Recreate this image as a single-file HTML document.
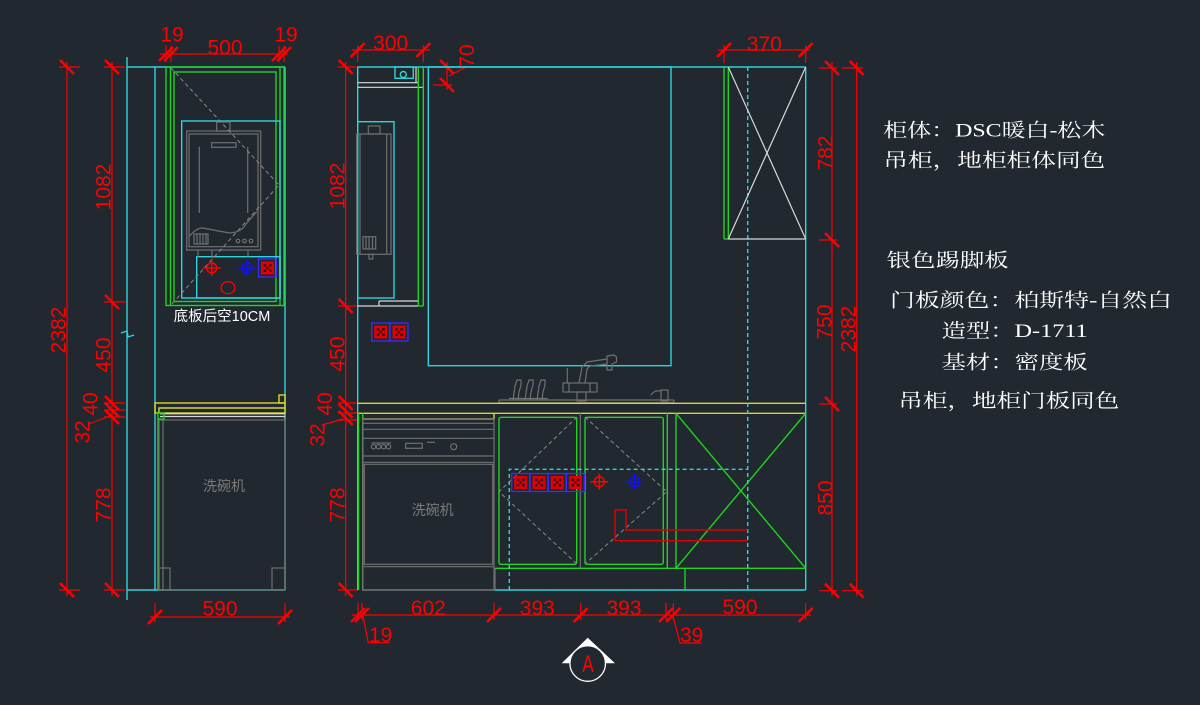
<!DOCTYPE html>
<html><head><meta charset="utf-8">
<style>
html,body{margin:0;padding:0;background:#212830;}
svg{display:block}
.r{stroke:#ff0000;stroke-width:1.2;fill:none}
.c{stroke:#2dd4dc;stroke-width:1.4;fill:none}
.g{stroke:#1fd41f;stroke-width:1.4;fill:none}
.y{stroke:#d8d82a;stroke-width:1.4;fill:none}
.w{stroke:#d8d8d8;stroke-width:1.2;fill:none}
.gr{stroke:#707070;stroke-width:1.2;fill:none}
.dg{stroke:#8a8a8a;stroke-width:1;fill:none;stroke-dasharray:4 3}
.dc{stroke:#2dd4dc;stroke-width:1.4;fill:none;stroke-dasharray:4 3}
.t{fill:#ff0000;font-family:"Liberation Sans",sans-serif;font-size:21px}
.n{fill:#ffffff;font-family:"Liberation Serif","Noto Serif CJK SC",serif;font-size:19px}
</style></head><body>
<svg width="1200" height="705" viewBox="0 0 1200 705" xmlns="http://www.w3.org/2000/svg">
<defs>
<path id="tv" d="M-7,-7L7,7" stroke="#ff0000" stroke-width="2.6"/>
<path id="th" d="M-7,7L7,-7" stroke="#ff0000" stroke-width="2.6"/>
<g id="sock">
<rect x="0" y="0" width="18" height="18" fill="none" stroke="#3a2cff" stroke-width="1.3"/>
<rect x="2.5" y="2.5" width="13" height="13" fill="#e00000"/>
<rect x="5" y="5" width="2.6" height="2.6" fill="#3a1020"/>
<rect x="10.4" y="5" width="2.6" height="2.6" fill="#3a1020"/>
<rect x="5" y="10.4" width="2.6" height="2.6" fill="#3a1020"/>
<rect x="10.4" y="10.4" width="2.6" height="2.6" fill="#3a1020"/>
<rect x="7.8" y="7.8" width="2.4" height="2.4" fill="#3a1020"/>
</g>
<g id="xr" fill="none" stroke="#ff0000" stroke-width="1.5"><circle r="5"/><path d="M-9,0H9M0,-8V8"/></g>
<g id="xb" fill="none" stroke="#1010ff" stroke-width="1.5"><circle r="5"/><path d="M-9,0H9M0,-8V8"/></g>
</defs>
<rect width="1200" height="705" fill="#212830"/>

<!-- ================= LEFT SECTION ================= -->
<line class="r" x1="67" y1="62" x2="67" y2="596"/>
<line class="r" x1="59" y1="67" x2="80" y2="67"/>
<line class="r" x1="59" y1="590" x2="80" y2="590"/>
<use href="#tv" x="67" y="67"/><use href="#tv" x="67" y="590"/>
<text class="t" transform="translate(58,330) rotate(-90)" text-anchor="middle" dy="7.5">2382</text>

<line class="r" x1="112" y1="62" x2="112" y2="596"/>
<line class="r" x1="104" y1="67" x2="125" y2="67"/>
<line class="r" x1="104" y1="302" x2="125" y2="302"/>
<line class="r" x1="104" y1="403" x2="125" y2="403"/>
<line class="r" x1="104" y1="410" x2="125" y2="410"/>
<line class="r" x1="104" y1="417" x2="125" y2="417"/>
<line class="r" x1="104" y1="590" x2="125" y2="590"/>
<use href="#tv" x="112" y="67"/><use href="#tv" x="112" y="302"/>
<use href="#tv" x="112" y="403"/><use href="#tv" x="112" y="410"/><use href="#tv" x="112" y="417"/>
<use href="#tv" x="112" y="590"/>
<text class="t" transform="translate(103,187) rotate(-90)" text-anchor="middle" dy="7.5">1082</text>
<text class="t" transform="translate(103,355) rotate(-90)" text-anchor="middle" dy="7.5">450</text>
<text class="t" transform="translate(90,404) rotate(-90)" text-anchor="middle" dy="7.5">40</text>
<text class="t" transform="translate(82,432) rotate(-90)" text-anchor="middle" dy="7.5">32</text>
<line class="r" x1="89" y1="424" x2="110" y2="416"/>
<text class="t" transform="translate(103,505) rotate(-90)" text-anchor="middle" dy="7.5">778</text>

<line class="r" x1="160" y1="54" x2="288" y2="54"/>
<line class="r" x1="166" y1="46" x2="166" y2="62"/>
<line class="r" x1="171" y1="46" x2="171" y2="62"/>
<line class="r" x1="279" y1="46" x2="279" y2="62"/>
<line class="r" x1="284" y1="46" x2="284" y2="62"/>
<use href="#th" x="166" y="54"/><use href="#th" x="171" y="54"/>
<use href="#th" x="279" y="54"/><use href="#th" x="284" y="54"/>
<text class="t" x="172" y="41.5" text-anchor="middle">19</text>
<text class="t" x="225" y="54.5" text-anchor="middle">500</text>
<text class="t" x="286" y="41.5" text-anchor="middle">19</text>

<line class="c" x1="127" y1="57" x2="127" y2="600"/>
<path class="c" d="M121,333 L127,331 L128,337 L134,335"/>
<line class="c" x1="127" y1="67" x2="285" y2="67"/>
<line class="c" x1="155" y1="67" x2="155" y2="590"/>
<line class="c" x1="285" y1="67" x2="285" y2="590"/>
<line class="c" x1="127" y1="590" x2="285" y2="590"/>

<rect class="g" x="166" y="67" width="118" height="238.5"/>
<line class="g" x1="170.5" y1="67" x2="170.5" y2="305"/>
<line class="g" x1="280" y1="67" x2="280" y2="305"/>
<rect class="g" x="174" y="72" width="102" height="229.5"/>

<rect class="c" x="181.7" y="121" width="98.3" height="177"/>
<rect class="c" x="196.7" y="256.7" width="83.3" height="41.3"/>
<g class="gr">
<rect x="186.7" y="131" width="74" height="119"/>
<rect x="189" y="134" width="69" height="112.7"/>
<rect x="216.7" y="122" width="13.3" height="9"/>
<rect x="211.7" y="142.7" width="24.3" height="4.6"/>
<line x1="199.3" y1="146.7" x2="199.3" y2="213"/>
<line x1="247.7" y1="146.7" x2="247.7" y2="213"/>
<path d="M189,236.7 Q196,228 203,228 Q218,231 230,233 Q242,232 246,224 L256.7,211.7"/>
<rect x="194" y="234" width="14" height="10"/>
<path d="M197,234V244M200,234V244M203,234V244M206,234V244"/>
<circle cx="238" cy="241" r="1.8"/><circle cx="244.5" cy="241" r="1.8"/><circle cx="251" cy="241" r="1.8"/>
<path d="M198,250V256.7M212,250V256.7M248,250V256.7"/>
</g>
<path class="dg" d="M171,68 L279,185 L171,305"/>
<use href="#xr" x="211.7" y="268"/>
<use href="#xb" x="246.7" y="268"/>
<use href="#sock" x="258.5" y="259"/>
<ellipse cx="228" cy="287.7" rx="7" ry="6" fill="none" stroke="#ff0000" stroke-width="1.3"/>
<text x="222" y="321" text-anchor="middle" fill="#ffffff" font-family="'Liberation Sans','Noto Sans CJK SC',sans-serif" font-size="14.5">底板后空10CM</text>

<rect class="y" x="155" y="403" width="130" height="10"/>
<rect class="y" x="279" y="395" width="6" height="8"/>
<path class="y" d="M159,413 V408 H285"/>
<line class="w" x1="160" y1="413.8" x2="285" y2="413.8"/>
<line class="w" x1="160" y1="416.5" x2="285" y2="416.5"/>
<rect class="g" x="158" y="413" width="6" height="6"/>
<line class="g" x1="158" y1="419" x2="158" y2="590"/>
<g class="gr">
<rect x="159" y="420" width="126" height="170"/>
<line x1="163" y1="420" x2="163" y2="590"/>
<rect x="159" y="568" width="11" height="22"/>
<rect x="272" y="568" width="13" height="22"/>
</g>
<text x="224" y="491" text-anchor="middle" fill="#7a7a7a" font-family="'Liberation Sans','Noto Sans CJK SC',sans-serif" font-size="14">洗碗机</text>

<line class="r" x1="150" y1="617" x2="290" y2="617"/>
<line class="r" x1="155" y1="603" x2="155" y2="622"/>
<line class="r" x1="285" y1="603" x2="285" y2="622"/>
<use href="#th" x="155" y="617"/><use href="#th" x="285" y="617"/>
<text class="t" x="220" y="615.5" text-anchor="middle">590</text>

<!-- ================= MIDDLE SECTION ================= -->
<line class="r" x1="345.7" y1="62" x2="345.7" y2="596"/>
<line class="r" x1="338" y1="67" x2="358" y2="67"/>
<line class="r" x1="338" y1="306" x2="358" y2="306"/>
<line class="r" x1="338" y1="403" x2="358" y2="403"/>
<line class="r" x1="338" y1="413" x2="358" y2="413"/>
<line class="r" x1="338" y1="420" x2="358" y2="420"/>
<line class="r" x1="338" y1="590" x2="358" y2="590"/>
<use href="#tv" x="345.7" y="67"/><use href="#tv" x="345.7" y="306"/>
<use href="#tv" x="345.7" y="403"/><use href="#tv" x="345.7" y="411"/><use href="#tv" x="345.7" y="418"/>
<use href="#tv" x="345.7" y="590"/>
<text class="t" transform="translate(337,186) rotate(-90)" text-anchor="middle" dy="7.5">1082</text>
<text class="t" transform="translate(337,354) rotate(-90)" text-anchor="middle" dy="7.5">450</text>
<text class="t" transform="translate(324.5,404) rotate(-90)" text-anchor="middle" dy="7.5">40</text>
<text class="t" transform="translate(317,435) rotate(-90)" text-anchor="middle" dy="7.5">32</text>
<line class="r" x1="322" y1="425" x2="343" y2="419"/>
<text class="t" transform="translate(337,505) rotate(-90)" text-anchor="middle" dy="7.5">778</text>

<line class="r" x1="352" y1="50" x2="430" y2="50"/>
<line class="r" x1="357.7" y1="45" x2="357.7" y2="62"/>
<line class="r" x1="423.3" y1="45" x2="423.3" y2="62"/>
<use href="#th" x="357.7" y="50"/><use href="#th" x="423.3" y="50"/>
<text class="t" x="390.7" y="50" text-anchor="middle">300</text>

<line class="r" x1="433" y1="67" x2="452" y2="67"/>
<line class="r" x1="433" y1="85" x2="452" y2="85"/>
<line class="r" x1="447" y1="62" x2="447" y2="90"/>
<use href="#tv" x="447" y="67"/><use href="#tv" x="447" y="85"/>
<line class="r" x1="449" y1="76" x2="466" y2="67"/>
<text class="t" transform="translate(466.5,56) rotate(-90)" text-anchor="middle" dy="7.5">70</text>

<line class="c" x1="357.7" y1="67" x2="805.7" y2="67"/>
<line class="c" x1="357.7" y1="67" x2="357.7" y2="590"/>
<rect class="c" x="428.3" y="67" width="242.7" height="298.7"/>
<line class="c" x1="805.7" y1="67" x2="805.7" y2="590"/>
<line class="c" x1="494" y1="590" x2="805.7" y2="590"/>
<rect class="c" x="395" y="67" width="18.3" height="11.3"/>
<circle class="c" cx="403.3" cy="74.5" r="3"/>

<line class="w" x1="357.7" y1="82.7" x2="418" y2="82.7"/>
<line class="w" x1="357.7" y1="87.3" x2="423" y2="87.3"/>
<line class="w" x1="416" y1="67" x2="416" y2="82.7"/>
<line class="g" x1="418.3" y1="67" x2="418.3" y2="306"/>
<line class="g" x1="423.3" y1="67" x2="423.3" y2="306"/>
<line class="g" x1="418.3" y1="306" x2="423.3" y2="306"/>
<line class="w" x1="379" y1="301" x2="418" y2="301"/>
<line class="w" x1="357.7" y1="306" x2="418" y2="306"/>
<line class="w" x1="379" y1="301" x2="379" y2="306"/>

<rect class="c" x="357.7" y="121.7" width="36.3" height="176.3"/>
<g class="gr">
<rect x="356.7" y="134" width="34.3" height="120.3"/>
<line x1="360" y1="134" x2="360" y2="254"/>
<line x1="386.7" y1="134" x2="386.7" y2="254"/>
<rect x="368.3" y="126" width="11.7" height="8"/>
<rect x="363" y="236.7" width="12.7" height="12.3"/>
<path d="M366,236.7V249M369,236.7V249M372.5,236.7V249"/>
<rect x="369" y="254.3" width="3.7" height="4.7"/>
</g>

<use href="#sock" x="371.7" y="323"/>
<use href="#sock" x="390" y="323"/>

<g class="gr">
<rect x="499" y="400" width="175" height="2.7" rx="1"/>
<path d="M513,400 L515,386 L517,380 L521,380 L521,385 L519,392 L518,400"/>
<path d="M525,400 L527,386 L529,380 L533,380 L533,385 L531,392 L530,400"/>
<path d="M537,400 L539,386 L541,380 L545,380 L545,385 L543,392 L542,400"/>
<line x1="509" y1="398.5" x2="548" y2="398.5"/>
<rect x="563" y="383" width="34" height="9"/>
<line x1="569" y1="383" x2="569" y2="392"/>
<line x1="590" y1="383" x2="590" y2="392"/>
<rect x="577" y="392" width="9" height="9"/>
<line x1="567.3" y1="368" x2="567.3" y2="383"/>
<path d="M579,383 L582,367 L587,362 L607,359"/>
<path d="M585,383 L587,369 L590,366 L607,364"/>
<path d="M607,356 L614,355 L616.5,357 L616.5,362 L612,364 L612,370 L607,370 Z"/>
<rect x="661" y="390" width="7" height="11"/>
<path d="M651,395 Q654,390 661,391"/>
</g>

<line class="y" x1="357.7" y1="403.3" x2="805.7" y2="403.3"/>
<line class="y" x1="357.7" y1="413.3" x2="805.7" y2="413.3"/>

<line class="g" x1="358.5" y1="413" x2="358.5" y2="590"/>
<line class="g" x1="362.7" y1="413" x2="362.7" y2="590"/>
<path class="y" d="M362.7,419 H494 V413"/>
<g class="gr">
<rect x="362.7" y="419" width="131.3" height="171"/>
<line x1="362.7" y1="423.3" x2="494" y2="423.3"/>
<line x1="362.7" y1="429.3" x2="494" y2="429.3"/>
<line x1="362.7" y1="438.3" x2="494" y2="438.3"/>
<line x1="362.7" y1="456" x2="494" y2="456"/>
<line x1="362.7" y1="462.3" x2="494" y2="462.3"/>
<line x1="371.5" y1="443" x2="391" y2="443"/>
<circle cx="373.5" cy="446.7" r="2.2"/><circle cx="378.5" cy="446.7" r="2.2"/>
<circle cx="383.5" cy="446.7" r="2.2"/><circle cx="388.5" cy="446.7" r="2.2"/>
<rect x="405.7" y="443.3" width="16.6" height="5"/>
<line x1="427" y1="442.3" x2="435" y2="442.3"/>
<circle cx="453.7" cy="446.7" r="3"/>
<rect x="364.3" y="464.3" width="128.4" height="100"/>
<line x1="362.7" y1="566.7" x2="494" y2="566.7"/>
<line x1="495" y1="568" x2="495" y2="590"/>
<line x1="580.3" y1="413" x2="580.3" y2="568"/>
</g>
<line x1="362" y1="590" x2="494" y2="590" stroke="#707070" stroke-width="1.4"/>
<text x="432.7" y="515" text-anchor="middle" fill="#7a7a7a" font-family="'Liberation Sans','Noto Sans CJK SC',sans-serif" font-size="14">洗碗机</text>

<rect class="g" x="499" y="417.3" width="77.7" height="147" rx="2"/>
<rect class="g" x="585" y="417.3" width="78.3" height="147" rx="2"/>
<line class="g" x1="667.3" y1="413" x2="667.3" y2="568.3"/>
<line class="g" x1="676" y1="413" x2="676" y2="568.3"/>
<line class="g" x1="495" y1="568.3" x2="805.7" y2="568.3"/>
<line class="g" x1="685" y1="568.3" x2="685" y2="590"/>
<line class="g" x1="676" y1="413.3" x2="805.7" y2="568.3"/>
<line class="g" x1="805.7" y1="413.3" x2="676" y2="568.3"/>
<path class="dg" d="M577,417 L499,491.7 L577,564"/>
<path class="dg" d="M585,417 L666.7,491.7 L585,564"/>

<path class="dc" d="M509.3,590 V469.3 H747.7"/>
<line class="dc" x1="747.7" y1="67" x2="747.7" y2="590"/>

<use href="#sock" x="511.7" y="473.5"/>
<use href="#sock" x="530" y="473.5"/>
<use href="#sock" x="548.2" y="473.5"/>
<use href="#sock" x="566.4" y="473.5"/>
<use href="#xr" x="599.3" y="481.7"/>
<use href="#xb" x="634.3" y="481.7"/>
<path d="M747.7,540.7 H615 V510 H626 V530 H747.7" fill="none" stroke="#dd0000" stroke-width="1.4"/>

<line class="g" x1="724" y1="67" x2="724" y2="239"/>
<line class="g" x1="728.3" y1="67" x2="728.3" y2="239"/>
<line class="g" x1="724" y1="239" x2="728.3" y2="239"/>
<line class="w" x1="728.3" y1="239" x2="805.7" y2="239"/>
<line class="w" x1="728.3" y1="67" x2="805.7" y2="239"/>
<line class="w" x1="805.7" y1="67" x2="728.3" y2="239"/>

<line class="r" x1="718" y1="50" x2="810" y2="50"/>
<line class="r" x1="724" y1="45" x2="724" y2="63"/>
<line class="r" x1="805.7" y1="45" x2="805.7" y2="63"/>
<use href="#th" x="724" y="50"/><use href="#th" x="805.7" y="50"/>
<text class="t" x="764.3" y="51" text-anchor="middle">370</text>

<line class="r" x1="832" y1="62" x2="832" y2="596"/>
<line class="r" x1="819" y1="68" x2="837" y2="68"/>
<line class="r" x1="819" y1="240" x2="837" y2="240"/>
<line class="r" x1="819" y1="404" x2="837" y2="404"/>
<line class="r" x1="819" y1="590.7" x2="837" y2="590.7"/>
<use href="#tv" x="832" y="68"/><use href="#tv" x="832" y="240"/>
<use href="#tv" x="832" y="404"/><use href="#tv" x="832" y="590.7"/>
<line class="r" x1="856.7" y1="62" x2="856.7" y2="596"/>
<line class="r" x1="842" y1="68" x2="863" y2="68"/>
<line class="r" x1="842" y1="590.7" x2="863" y2="590.7"/>
<use href="#tv" x="856.7" y="68"/><use href="#tv" x="856.7" y="590.7"/>
<text class="t" transform="translate(825,153) rotate(-90)" text-anchor="middle" dy="7.5">782</text>
<text class="t" transform="translate(824,322) rotate(-90)" text-anchor="middle" dy="7.5">750</text>
<text class="t" transform="translate(848,329) rotate(-90)" text-anchor="middle" dy="7.5">2382</text>
<text class="t" transform="translate(825,498) rotate(-90)" text-anchor="middle" dy="7.5">850</text>

<line class="r" x1="352" y1="615" x2="811" y2="615"/>
<line class="r" x1="358" y1="603" x2="358" y2="620"/>
<line class="r" x1="362" y1="603" x2="362" y2="620"/>
<line class="r" x1="494" y1="603" x2="494" y2="620"/>
<line class="r" x1="580.7" y1="603" x2="580.7" y2="620"/>
<line class="r" x1="666" y1="603" x2="666" y2="620"/>
<line class="r" x1="673.3" y1="603" x2="673.3" y2="620"/>
<line class="r" x1="805.7" y1="603" x2="805.7" y2="620"/>
<use href="#th" x="358" y="615"/><use href="#th" x="362" y="615"/>
<use href="#th" x="494" y="615"/><use href="#th" x="580.7" y="615"/>
<use href="#th" x="666" y="615"/><use href="#th" x="673.3" y="615"/>
<use href="#th" x="805.7" y="615"/>
<text class="t" x="428.3" y="615" text-anchor="middle">602</text>
<text class="t" x="537.3" y="615" text-anchor="middle">393</text>
<text class="t" x="624" y="615" text-anchor="middle">393</text>
<text class="t" x="740" y="614" text-anchor="middle">590</text>
<path class="r" d="M363,616 L368.3,642.7 H390"/>
<text class="t" x="369" y="642">19</text>
<path class="r" d="M673,616 L680,643 H701.7"/>
<text class="t" x="680" y="642">39</text>

<polygon points="587.7,637.7 561.7,663.3 615,663.3" fill="#ffffff"/>
<circle cx="587.7" cy="663.5" r="17.8" fill="#212830" stroke="#ffffff" stroke-width="1.3"/>
<text x="588" y="672" text-anchor="middle" fill="#ff0000" font-family="'Liberation Sans',sans-serif" font-size="24" transform="translate(588,0) scale(0.72,1) translate(-588,0)">A</text>

<!-- ================= NOTES ================= -->
<text class="n" x="883.3" y="136.5" textLength="222" lengthAdjust="spacingAndGlyphs">柜体：DSC暖白-松木</text>
<text class="n" x="883.3" y="166.5" textLength="222" lengthAdjust="spacingAndGlyphs">吊柜，地柜柜体同色</text>
<text class="n" x="886.7" y="266.5" textLength="122" lengthAdjust="spacingAndGlyphs">银色踢脚板</text>
<text class="n" x="890" y="306.5" textLength="282" lengthAdjust="spacingAndGlyphs">门板颜色：柏斯特-自然白</text>
<text class="n" x="941.7" y="337" textLength="146" lengthAdjust="spacingAndGlyphs">造型：D-1711</text>
<text class="n" x="941.7" y="368.7" textLength="146" lengthAdjust="spacingAndGlyphs">基材：密度板</text>
<text class="n" x="898.3" y="407" textLength="221" lengthAdjust="spacingAndGlyphs">吊柜，地柜门板同色</text>
</svg>
</body></html>
